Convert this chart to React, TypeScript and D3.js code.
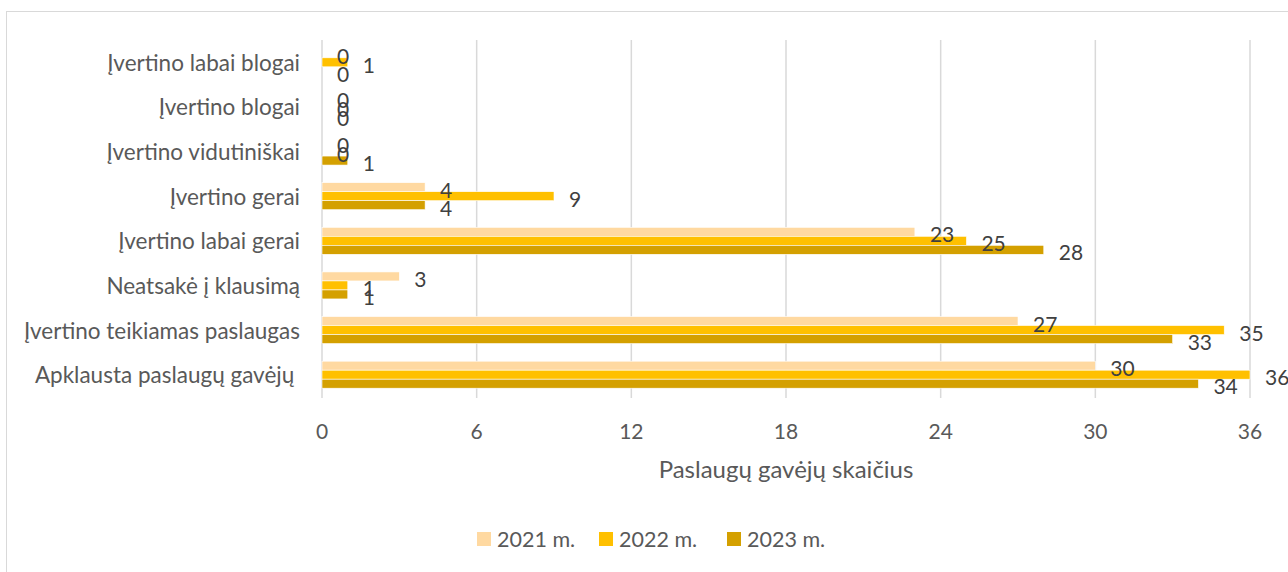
import React from "react";
import * as d3 from "d3";

const categories = [
  "Įvertino labai blogai",
  "Įvertino blogai",
  "Įvertino vidutiniškai",
  "Įvertino gerai",
  "Įvertino labai gerai",
  "Neatsakė į klausimą",
  "Įvertino teikiamas paslaugas",
  "Apklausta paslaugų gavėjų ",
];
const seriesNames = ["2021 m.", "2022 m.", "2023 m."];
const values2021 = [0, 0, 0, 4, 23, 3, 27, 30];
const values2022 = [1, 0, 0, 9, 25, 1, 35, 36];
const values2023 = [0, 0, 1, 4, 28, 1, 33, 34];
const xTicks = [0, 6, 12, 18, 24, 30, 36];
const colors = ["#FFD9A1", "#FFC000", "#D4A000"];
const axisTitle = "Paslaugų gavėjų skaičius";

const W = 1288;
const H = 572;
const FONT = "Lato, 'Open Sans', sans-serif";

export default function App() {
  const seriesValues = [values2021, values2022, values2023];
  const x = d3.scaleLinear().domain([0, 36]).range([322, 1250]);
  const y = d3
    .scaleBand<string>()
    .domain(categories)
    .range([40, 397])
    .paddingInner(0.395)
    .paddingOuter(0.1975);
  const yInner = d3
    .scaleBand<string>()
    .domain(seriesNames)
    .range([0, y.bandwidth()]);

  const legendX = [477, 599, 727];

  return (
    <svg
      width={W}
      height={H}
      style={{ position: "absolute", left: 0, top: 0, background: "#fff" }}
      fontFamily={FONT}
    >
      <rect x={0} y={0} width={W} height={H} fill="#fff" />
      <rect
        x={6.5}
        y={11.5}
        width={W + 20}
        height={H + 20}
        fill="none"
        stroke="#d9d9d9"
        strokeWidth={1}
      />
      {/* gridlines */}
      {xTicks.map((t) => (
        <line
          key={"g" + t}
          x1={x(t)}
          x2={x(t)}
          y1={40}
          y2={398}
          stroke="#d9d9d9"
          strokeWidth={1.5}
        />
      ))}
      {/* bars */}
      {categories.map((c, ci) => (
        <g key={c} transform={`translate(0,${y(c)})`}>
          {seriesNames.map((s, si) => {
            const v = seriesValues[si][ci];
            return (
              <rect
                key={s}
                x={x(0)}
                y={yInner(s)}
                width={x(v) - x(0)}
                height={yInner.bandwidth()}
                fill={colors[si]}
                stroke="#fff"
                strokeWidth={0.6}
              />
            );
          })}
        </g>
      ))}
      {/* data labels */}
      {categories.map((c, ci) => (
        <g key={"l" + c} transform={`translate(0,${y(c)})`}>
          {seriesNames.map((s, si) => {
            const v = seriesValues[si][ci];
            return (
              <text
                key={s}
                x={x(v) + 15}
                y={(yInner(s) as number) + yInner.bandwidth() / 2 + 2}
                dominantBaseline="central"
                fontSize={21}
                fill="#404040"
              >
                {v}
              </text>
            );
          })}
        </g>
      ))}
      {/* category labels */}
      {categories.map((c) => (
        <text
          key={"c" + c}
          x={300}
          y={(y(c) as number) + y.bandwidth() / 2}
          textAnchor="end"
          dominantBaseline="central"
          fontSize={22.5}
          fill="#595959"
          style={{ whiteSpace: "pre" }}
        >
          {c}
        </text>
      ))}
      {/* x tick labels */}
      {xTicks.map((t) => (
        <text
          key={"t" + t}
          x={x(t)}
          y={430}
          textAnchor="middle"
          dominantBaseline="central"
          fontSize={21}
          fill="#595959"
        >
          {t}
        </text>
      ))}
      <text
        x={(x(0) + x(36)) / 2}
        y={468}
        textAnchor="middle"
        dominantBaseline="central"
        fontSize={24}
        fill="#595959"
      >
        {axisTitle}
      </text>
      {/* legend */}
      {seriesNames.map((s, si) => (
        <g key={"lg" + s}>
          <rect x={legendX[si]} y={532} width={14} height={14} fill={colors[si]} />
          <text
            x={legendX[si] + 20}
            y={539}
            dominantBaseline="central"
            fontSize={21.5}
            fill="#595959"
          >
            {s}
          </text>
        </g>
      ))}
    </svg>
  );
}
